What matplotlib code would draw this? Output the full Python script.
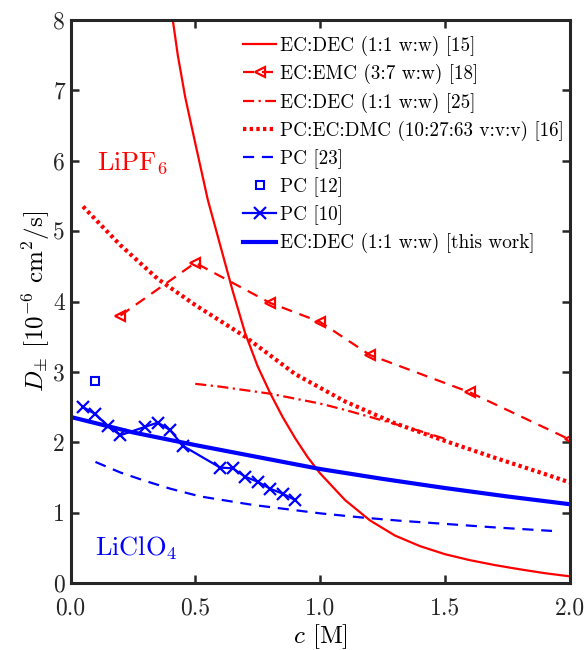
import matplotlib
matplotlib.use("Agg")
from matplotlib import pyplot as plt

plt.rcParams['font.family'] = ['cmr10', 'DejaVu Serif']
plt.rcParams['mathtext.fontset'] = 'cm'
plt.rcParams['axes.formatter.use_mathtext'] = True

# EC:DEC (1:1 w:w) [15]
c15 = [0.41, 0.43, 0.46, 0.5, 0.55, 0.6, 0.65, 0.7, 0.75, 0.8, 0.85, 0.9, 0.95, 1.0, 1.1, 1.2,
       1.3, 1.4, 1.5, 1.6, 1.7, 1.8, 1.9, 2.0]
d15 = [8.0, 7.5, 6.9, 6.25, 5.45, 4.8, 4.15, 3.55, 3.08, 2.7, 2.36, 2.06, 1.79, 1.56, 1.18, 0.89,
       0.675, 0.525, 0.41, 0.325, 0.255, 0.195, 0.14, 0.095]
# EC:EMC (3:7 w:w) [18]
c18 = [0.2, 0.5, 0.8, 1.0, 1.2, 1.6, 2.0]
d18 = [3.8, 4.55, 3.98, 3.71, 3.24, 2.71, 2.04]
# EC:DEC (1:1 w:w) [25]
c25 = [0.5, 0.6, 0.7, 0.8, 0.9, 1.0, 1.1, 1.2, 1.3, 1.4, 1.5]
d25 = [2.83, 2.79, 2.74, 2.69, 2.62, 2.55, 2.46, 2.36, 2.26, 2.16, 2.05]
# PC:EC:DMC (10:27:63 v:v:v) [16]
c16 = [0.05, 0.2, 0.35, 0.5, 0.7, 0.9, 1.1, 1.3, 1.5, 1.7, 1.9, 2.0]
d16 = [5.35, 4.8, 4.32, 3.95, 3.5, 2.97, 2.58, 2.27, 2.02, 1.78, 1.55, 1.43]
# PC [23]
c23 = [0.1, 0.2, 0.3, 0.4, 0.52, 0.73, 1.0, 1.17, 1.32, 1.5, 1.7, 1.93]
d23 = [1.72, 1.57, 1.45, 1.34, 1.23, 1.11, 0.99, 0.93, 0.885, 0.84, 0.79, 0.74]
# PC [12]
c12 = [0.1]
d12 = [2.87]
# PC [10]
c10 = [0.05, 0.1, 0.15, 0.2, 0.3, 0.35, 0.4, 0.45, 0.6, 0.65, 0.7, 0.75, 0.8, 0.85, 0.9]
d10 = [2.50, 2.40, 2.23, 2.10, 2.22, 2.28, 2.17, 1.95, 1.64, 1.63, 1.51, 1.44, 1.34, 1.27, 1.18]
# EC:DEC (1:1 w:w) [this work]
cw = [0.0, 0.25, 0.5, 0.75, 1.0, 1.25, 1.5, 1.75, 2.0]
dw = [2.36, 2.14, 1.96, 1.79, 1.62, 1.48, 1.35, 1.23, 1.12]

xticks = [0.0, 0.5, 1.0, 1.5, 2.0]
yticks = [0, 1, 2, 3, 4, 5, 6, 7, 8]

red = (1, 0, 0)
blue = (0, 0, 1)

fig = plt.figure(figsize=(5.88, 6.5), dpi=100)
ax = fig.add_axes([70.5/588, 1-583/650, 499/588, 563/650])

ax.plot(c15, d15, "-", color=red, lw=1.6, label="EC:DEC (1:1 w:w) [15]")
ax.plot(c18, d18, "--", color=red, lw=1.6, marker="<", ms=7, mew=1.6, mfc="none",
        dashes=(5, 3.5), label="EC:EMC (3:7 w:w) [18]")
ax.plot(c25, d25, "-.", color=red, lw=1.6, dashes=(5, 2, 1, 2), label="EC:DEC (1:1 w:w) [25]")
ax.plot(c16, d16, ":", color=red, lw=3, dashes=(0.8, 0.8), label="PC:EC:DMC (10:27:63 v:v:v) [16]")
ax.plot(c23, d23, "--", color=blue, lw=1.6, dashes=(5, 3.5), label="PC [23]")
ax.plot(c12, d12, "s", color=blue, ms=6, mew=1.5, mfc="none", ls="none", label="PC [12]")
ax.plot(c10, d10, "-", color=blue, lw=1.6, marker="x", ms=8, mew=1.6, label="PC [10]")
ax.plot(cw, dw, "-", color=blue, lw=3, label="EC:DEC (1:1 w:w) [this work]")

ax.text(0.105, 5.97, r"LiPF$_6$", color=red, fontsize=19, va="center", ha="left")
ax.text(0.1, 0.5, r"LiClO$_4$", color=blue, fontsize=19, va="center", ha="left")

ax.set_xlim(0, 2)
ax.set_ylim(0, 8)
ax.set_xticks(xticks)
ax.set_xticklabels(["%.1f" % v for v in xticks])
ax.set_yticks(yticks)
ax.set_yticklabels([str(v) for v in yticks])
ax.tick_params(direction="in", top=True, right=True, length=6, width=1.8,
               labelsize=17, color="#262626", labelcolor="#262626", pad=4)
ax.tick_params(axis="x", pad=10)
for s in ax.spines.values():
    s.set_linewidth(2.2)
    s.set_color("#262626")

ax.set_xlabel(r"$c$ [M]", fontsize=18, labelpad=2)
ax.set_ylabel(r"$D_{\pm}$ [$10^{-6}$ cm$^2$/s]", fontsize=18, labelpad=1)

ax.legend(loc="upper left", bbox_to_anchor=(0.346, 0.972), frameon=False, fontsize=13.8,
          borderpad=0, borderaxespad=0, handlelength=1.72, handletextpad=0.2,
          labelspacing=0.43)

fig.savefig("out.png", dpi=100)
